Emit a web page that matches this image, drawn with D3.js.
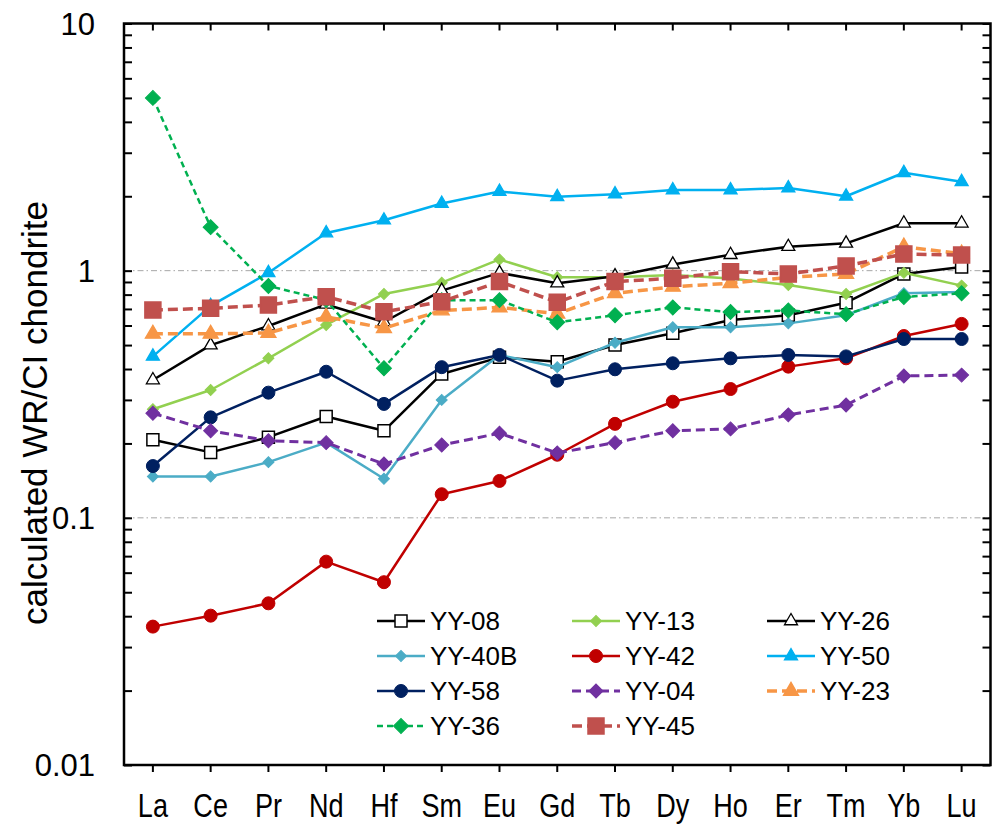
<!DOCTYPE html>
<html>
<head>
<meta charset="utf-8">
<script src="https://cdn.jsdelivr.net/npm/d3@7"></script>
<style>
  html, body { margin: 0; padding: 0; background: #fff; }
  svg { display: block; font-family: "Liberation Sans", Arial, sans-serif; }
</style>
</head>
<body>
<svg id="chart" width="992" height="828"></svg>
<script>
// Chondrite-normalised REE (+Hf) patterns, calculated whole rock / CI
const categories = ["La", "Ce", "Pr", "Nd", "Hf", "Sm", "Eu", "Gd", "Tb", "Dy", "Ho", "Er", "Tm", "Yb", "Lu"];
const yTickValues = [0.01, 0.1, 1, 10];
const yTickLabels = ["0.01", "0.1", "1", "10"];
const gridValues = [0.1, 1];

const seriesNames = ["YY-08", "YY-13", "YY-26", "YY-40B", "YY-42", "YY-50", "YY-58", "YY-04", "YY-23", "YY-36", "YY-45"];
const yy08  = [0.207, 0.184, 0.212, 0.257, 0.225, 0.382, 0.446, 0.428, 0.50, 0.558, 0.632, 0.66, 0.742, 0.97, 1.035];
const yy13  = [0.275, 0.329, 0.442, 0.603, 0.805, 0.894, 1.11, 0.94, 0.94, 0.96, 0.93, 0.875, 0.805, 0.98, 0.87];
const yy26  = [0.361, 0.50, 0.597, 0.73, 0.62, 0.83, 0.98, 0.89, 0.95, 1.06, 1.16, 1.25, 1.29, 1.555, 1.555];
const yy40b = [0.147, 0.147, 0.168, 0.2015, 0.144, 0.30, 0.456, 0.407, 0.511, 0.59, 0.59, 0.612, 0.66, 0.81, 0.82];
const yy42  = [0.0363, 0.0402, 0.0451, 0.0665, 0.0549, 0.1246, 0.141, 0.18, 0.24, 0.295, 0.332, 0.409, 0.442, 0.544, 0.609];
const yy50  = [0.45, 0.72, 0.98, 1.42, 1.6, 1.87, 2.09, 1.99, 2.04, 2.12, 2.12, 2.16, 2.0, 2.49, 2.29];
const yy58  = [0.162, 0.255, 0.321, 0.39, 0.289, 0.407, 0.456, 0.359, 0.399, 0.422, 0.442, 0.456, 0.45, 0.529, 0.529];
const yy04  = [0.265, 0.225, 0.205, 0.2015, 0.165, 0.197, 0.22, 0.183, 0.2015, 0.225, 0.229, 0.261, 0.286, 0.375, 0.378];
const yy23  = [0.555, 0.555, 0.56, 0.651, 0.585, 0.69, 0.71, 0.67, 0.81, 0.86, 0.89, 0.94, 0.97, 1.25, 1.17];
const yy36  = [5.0, 1.5, 0.867, 0.761, 0.403, 0.76, 0.76, 0.618, 0.66, 0.71, 0.68, 0.69, 0.667, 0.783, 0.81];
const yy45  = [0.693, 0.704, 0.726, 0.785, 0.682, 0.749, 0.903, 0.745, 0.903, 0.932, 0.991, 0.97, 1.045, 1.168, 1.157];

const seriesValues = [yy08, yy13, yy26, yy40b, yy42, yy50, yy58, yy04, yy23, yy36, yy45];

// Visual style per sample (line colour, dash, marker shape, fill, size)
const styles = {
  "YY-08":  { color: "#000000", dash: null,   width: 2.5, shape: "square",   fill: "#ffffff", stroke: "#000000", size: 12 },
  "YY-13":  { color: "#92D050", dash: null,   width: 2.5, shape: "diamond",  fill: "#92D050", stroke: "#92D050", size: 11 },
  "YY-26":  { color: "#000000", dash: null,   width: 2.5, shape: "triangle", fill: "#ffffff", stroke: "#000000", size: 13 },
  "YY-40B": { color: "#4BACC6", dash: null,   width: 2.5, shape: "diamond",  fill: "#4BACC6", stroke: "#4BACC6", size: 11 },
  "YY-42":  { color: "#C00000", dash: null,   width: 2.5, shape: "circle",   fill: "#C00000", stroke: "#C00000", size: 13 },
  "YY-50":  { color: "#00B0F0", dash: null,   width: 2.5, shape: "triangle", fill: "#00B0F0", stroke: "#00B0F0", size: 13 },
  "YY-58":  { color: "#002060", dash: null,   width: 2.5, shape: "circle",   fill: "#002060", stroke: "#002060", size: 13 },
  "YY-04":  { color: "#7030A0", dash: "9,5",  width: 3,   shape: "diamond",  fill: "#7030A0", stroke: "#7030A0", size: 14 },
  "YY-23":  { color: "#F79646", dash: "10,5", width: 3.5, shape: "triangle", fill: "#F79646", stroke: "#F79646", size: 15 },
  "YY-36":  { color: "#00B050", dash: "6,4",  width: 2.5, shape: "diamond",  fill: "#00B050", stroke: "#00B050", size: 15 },
  "YY-45":  { color: "#C0504D", dash: "10,5", width: 3.5, shape: "square",   fill: "#C0504D", stroke: "#C0504D", size: 16 }
};

const svg = d3.select("#chart");
const plot = { left: 124, right: 990.5, top: 23.5, bottom: 765 };

const x = d3.scaleBand().domain(categories).range([plot.left, plot.right]).paddingInner(0).paddingOuter(0);
const xc = d => x(d) + x.bandwidth() / 2;
const y = d3.scaleLog().domain([0.01, 10]).range([plot.bottom, plot.top]);

// Dash-dot reference lines at 0.1 and 1
svg.append("g").selectAll("line").data(gridValues).join("line")
  .attr("x1", plot.left).attr("x2", plot.right)
  .attr("y1", d => y(d)).attr("y2", d => y(d))
  .attr("stroke", "#A6A6A6").attr("stroke-width", 1)
  .attr("stroke-dasharray", "6,3,1.5,3");

// Minor + major ticks on log axis (inside on left and right)
const minorTicks = [];
for (let e = -2; e < 1; e++) {
  for (let m = 1; m <= 9; m++) minorTicks.push(m * Math.pow(10, e));
}
minorTicks.push(10);

const axisLeft = d3.axisLeft(y).tickValues(minorTicks).tickSize(-8).tickFormat("");
const axisRight = d3.axisRight(y).tickValues(minorTicks).tickSize(-8).tickFormat("");
svg.append("g").attr("transform", `translate(${plot.left},0)`).call(axisLeft)
  .call(g => g.select(".domain").remove())
  .call(g => g.selectAll("line").attr("stroke", "#000").attr("stroke-width", 2));
svg.append("g").attr("transform", `translate(${plot.right},0)`).call(axisRight)
  .call(g => g.select(".domain").remove())
  .call(g => g.selectAll("line").attr("stroke", "#000").attr("stroke-width", 2));

// Category ticks: outward at bottom, inward at top
const axisBottom = d3.axisBottom(x).tickSize(7).tickSizeOuter(0);
const gb = svg.append("g").attr("transform", `translate(0,${plot.bottom})`).call(axisBottom);
gb.select(".domain").remove();
gb.selectAll("line").attr("stroke", "#000").attr("stroke-width", 2);
// condensed category labels
gb.selectAll("text").attr("fill", "#000").attr("font-size", 33)
  .attr("y", 0).attr("dy", 0)
  .attr("transform", "translate(0,52) scale(0.82,1)");

const axisTop = d3.axisTop(x).tickSize(-7).tickSizeOuter(0).tickFormat("");
const gt = svg.append("g").attr("transform", `translate(0,${plot.top})`).call(axisTop);
gt.select(".domain").remove();
gt.selectAll("line").attr("stroke", "#000").attr("stroke-width", 2);

// Y tick labels
svg.append("g").selectAll("text").data(yTickValues).join("text")
  .attr("x", 95).attr("y", d => y(d)).attr("dy", "0.36em")
  .attr("text-anchor", "end").attr("font-size", 31).attr("fill", "#000")
  .text((d, i) => yTickLabels[i]);

// Y axis title
svg.append("text")
  .attr("transform", "translate(47,413) rotate(-90)")
  .attr("text-anchor", "middle").attr("font-size", 35).attr("fill", "#000")
  .text("calculated WR/CI chondrite");

// Plot frame
svg.append("rect")
  .attr("x", plot.left).attr("y", plot.top)
  .attr("width", plot.right - plot.left).attr("height", plot.bottom - plot.top)
  .attr("fill", "none").attr("stroke", "#000").attr("stroke-width", 2.5);

// Marker drawing helper
function drawMarker(sel, st) {
  if (st.shape === "circle") {
    sel.append("circle").attr("r", st.size / 2)
      .attr("fill", st.fill).attr("stroke", st.stroke).attr("stroke-width", 1);
  } else if (st.shape === "square") {
    sel.append("path").attr("d", d3.symbol(d3.symbolSquare, st.size * st.size)())
      .attr("fill", st.fill).attr("stroke", st.stroke).attr("stroke-width", 1.5);
  } else if (st.shape === "diamond") {
    const s = st.size / Math.SQRT2;
    sel.append("path").attr("d", d3.symbol(d3.symbolSquare, s * s)())
      .attr("transform", "rotate(45)")
      .attr("fill", st.fill).attr("stroke", st.stroke).attr("stroke-width", 1);
  } else if (st.shape === "triangle") {
    const w = st.size;
    const area = Math.sqrt(3) / 4 * w * w;
    sel.append("path").attr("d", d3.symbol(d3.symbolTriangle, area)())
      .attr("fill", st.fill).attr("stroke", st.stroke).attr("stroke-width", 1.3);
  }
}

const line = d3.line().x(d => xc(d.cat)).y(d => y(d.v));

const seriesG = svg.append("g");
seriesNames.forEach((name, si) => {
  const st = styles[name];
  const pts = categories.map((c, i) => ({ cat: c, v: seriesValues[si][i] }));
  const g = seriesG.append("g");
  g.append("path").datum(pts).attr("d", line)
    .attr("fill", "none").attr("stroke", st.color).attr("stroke-width", st.width)
    .attr("stroke-dasharray", st.dash).attr("stroke-linejoin", "round");
  g.selectAll("g.m").data(pts).join("g").attr("class", "m")
    .attr("transform", d => `translate(${xc(d.cat)},${y(d.v)})`)
    .each(function () { drawMarker(d3.select(this), st); });
});

// Legend: 3 columns, row-wise order
const legend = svg.append("g");
const colX = [377, 572, 767];
const rowY = [621, 656, 691, 726];
seriesNames.forEach((name, i) => {
  const st = styles[name];
  const col = i % 3, row = Math.floor(i / 3);
  const g = legend.append("g").attr("transform", `translate(${colX[col]},${rowY[row]})`);
  g.append("line").attr("x1", 0).attr("x2", 48).attr("y1", 0).attr("y2", 0)
    .attr("stroke", st.color).attr("stroke-width", st.width).attr("stroke-dasharray", st.dash);
  const m = g.append("g").attr("transform", "translate(24,0)");
  drawMarker(m, st);
  g.append("text").attr("x", 53).attr("y", 0).attr("dy", "0.36em")
    .attr("font-size", 26).attr("fill", "#000").text(name);
});
</script>
</body>
</html>
